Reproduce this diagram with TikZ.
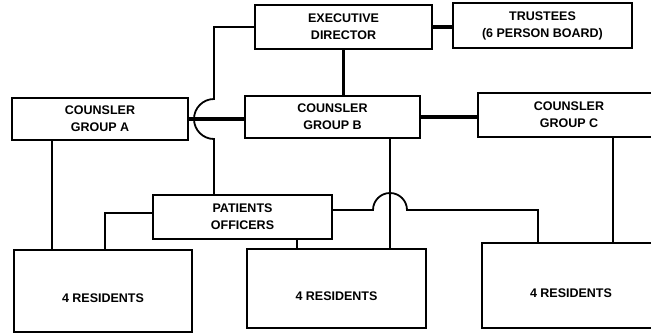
\documentclass[tikz,border=0pt]{standalone}
\usepackage{fontspec}
\setmainfont{Liberation Sans}

\begin{document}
\begin{tikzpicture}[x=1pt,y=-1pt,
    box/.style={draw,line width=1.8pt,inner sep=0pt,align=center,
      font=\fontsize{12.5}{17}\selectfont\bfseries},
    resbox/.style={box,text height=23pt,text depth=0pt},
    thk/.style={line width=3.5pt},
    thn/.style={line width=1.8pt}]
    \useasboundingbox (0,0) rectangle (651,333);
    \clip (0,0) rectangle (651,333);

    \node[box,minimum width=177pt,minimum height=44pt] (exec) at (343.5,27) {EXECUTIVE\\DIRECTOR};
    \node[box,minimum width=179pt,minimum height=45pt] (trst) at (542.5,25.5) {TRUSTEES\\(6 PERSON BOARD)};
    \node[box,minimum width=176pt,minimum height=42pt] (cga) at (100,119) {COUNSLER\\GROUP A};
    \node[box,minimum width=175pt,minimum height=42pt] (cgb) at (332.5,117) {COUNSLER\\GROUP B};
    \node[box,minimum width=182pt,minimum height=44pt] (cgc) at (569,115) {COUNSLER\\GROUP C};
    \node[box,minimum width=179pt,minimum height=44pt] (pat) at (242.5,217) {PATIENTS\\OFFICERS};
    \node[resbox,minimum width=178pt,minimum height=82pt] (rsa) at (103,291) {4 RESIDENTS};
    \node[resbox,minimum width=179pt,minimum height=79pt] (rsb) at (336.5,288.5) {4 RESIDENTS};
    \node[resbox,minimum width=178pt,minimum height=85pt] (rsc) at (571,285.5) {4 RESIDENTS};

    % junction points
    \coordinate (ha) at (214,99);
    \coordinate (hb) at (373,210);
    \coordinate (va) at (52,0);
    \coordinate (vl) at (105,0);
    \coordinate (vp) at (297,0);
    \coordinate (vb) at (390,0);
    \coordinate (vd) at (538,0);
    \coordinate (vc) at (613,0);

    \draw[thk] (exec.east) -- (exec.east -| trst.west);
    \draw[thk] (exec.south) -- (exec.south |- cgb.north);
    \draw[thk] (cga.east) -- (cga.east -| cgb.west);
    \draw[thk] (cgb.east) -- (cgb.east -| cgc.west);

    \draw[thn] (exec.west) -| (ha) arc[start angle=90,end angle=270,radius=20pt]
      -- (ha |- pat.north);
    \draw[thn] (va |- cga.south) -- (va |- rsa.north);
    \draw[thn] ([yshift=4pt]pat.west) -| (vl |- rsa.north);
    \draw[thn] (vp |- pat.south) -- (vp |- rsb.north);
    \draw[thn] (vb |- cgb.south) -- (vb |- rsb.north);
    \draw[thn] (pat.east |- hb) -- (hb) arc[start angle=180,end angle=0,radius=17pt]
      -| (vd |- rsc.north);
    \draw[thn] (vc |- cgc.south) -- (vc |- rsc.north);
  \end{tikzpicture}
\end{document}
